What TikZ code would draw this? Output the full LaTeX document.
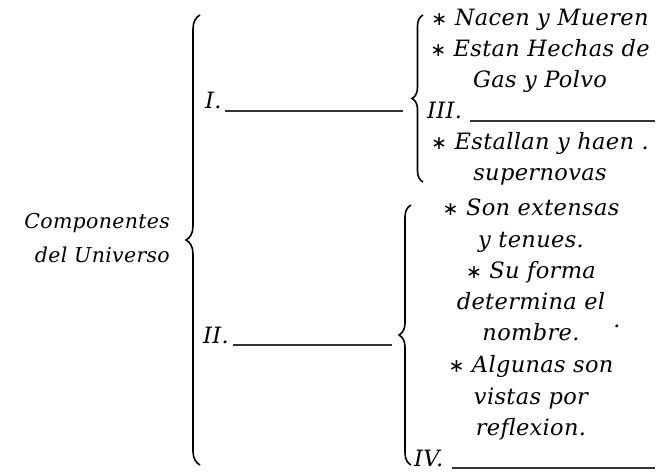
\documentclass[tikz,border=0pt]{standalone}
\usepackage{fontspec}
\setmainfont{DejaVu Serif}
\newfontfamily\cambfont[LetterSpace=1.5]{DejaVu Serif}
\newfontfamily\symfont{DejaVu Sans}
\newcommand\astk{{\symfont\upshape\fontsize{19}{19}\selectfont ∗}}
\usepackage{tikz}
\usetikzlibrary{positioning,decorations.pathreplacing}

\begin{document}
\begin{tikzpicture}[x=1pt,y=-1pt,
  item/.style = {font=\cambfont\itshape\fontsize{22.5}{22.5}\selectfont, inner sep=0pt, anchor=base},
  title/.style = {item, font=\cambfont\itshape\fontsize{20.5}{20.5}\selectfont, anchor=base east},
  blank/.style = {line width=1.2pt, black!80},
  mybrace/.style = {decorate, decoration={brace, amplitude=#1}, line width=1.6pt}]
\useasboundingbox (0,0) rectangle (656,472);

% left side
\node[title] (comp) at (170,228) {Componentes};
\node[title] (univ) at (170,262) {del Universo};
\coordinate (b1bot) at (200,465);
\coordinate (b1top) at (200,15);
\draw[mybrace=14pt] (b1bot) -- (b1top);

% I. and II.
\node[item, anchor=base west] (one) at (205,108) {I.};
\coordinate (one-a) at (225,111);
\coordinate (one-b) at (403,111);
\draw[blank] (one-a) -- (one-b);
\node[item, anchor=base west] (two) at (203,343) {II.};
\coordinate (two-a) at (233,345);
\coordinate (two-b) at (392,345);
\draw[blank] (two-a) -- (two-b);

% upper group
\coordinate (b2bot) at (423,182);
\coordinate (b2top) at (423,15);
\draw[mybrace=11pt] (b2bot) -- (b2top);
\foreach \y/\txt [count=\i] in {25/{\astk{} Nacen y Mueren}, 56/{\astk{} Estan Hechas de},
    87/{Gas y Polvo}, 149/{\astk{} Estallan y haen .}, 180/{supernovas}}
  \node[item] (up\i) at (540,\y) {\txt};
\node[item, anchor=base west] (three) at (427,118) {III.};
\coordinate (three-a) at (470,121);
\coordinate (three-b) at (655,121);
\draw[blank] (three-a) -- (three-b);

% lower group
\coordinate (b3bot) at (411,465);
\coordinate (b3top) at (411,205);
\draw[mybrace=12pt] (b3bot) -- (b3top);
\foreach \y/\txt [count=\i] in {215/{\astk{} Son extensas}, 247/{y tenues.}, 278/{\astk{} Su forma},
    309/{determina el}, 340/{nombre.}, 372/{\astk{} Algunas son}, 404/{vistas por}, 435/{reflexion.}}
  \node[item] (low\i) at (531,\y) {\txt};
\node[item] (dot) at (617,327) {.};
\node[item, anchor=base west] (four) at (414,466) {IV.};
\coordinate (four-a) at (452,468);
\coordinate (four-b) at (655,468);
\draw[blank] (four-a) -- (four-b);
\end{tikzpicture}
\end{document}
